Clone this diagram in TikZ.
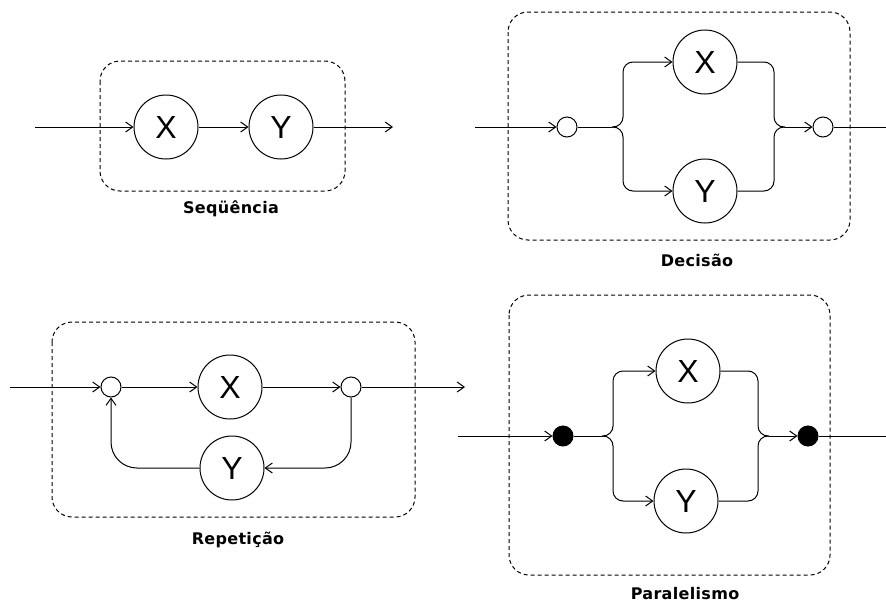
\documentclass[tikz,border=0pt]{standalone}
\usepackage{fontspec}
\setmainfont{Liberation Sans}
\newfontfamily\labelfont[LetterSpace=2]{DejaVu Sans}
\usetikzlibrary{arrows.meta,calc}

\tikzset{
  blockbox/.style = {draw, dash pattern=on 4pt off 3pt, rounded corners=20pt, line width=1pt},
  stepnode/.style = {draw, circle, fill=white, minimum size=64pt, inner sep=0pt, font=\fontsize{32}{32}\selectfont},
  joint/.style = {draw, circle, fill=white, minimum size=20pt, inner sep=0pt},
  fork/.style = {joint, fill=black},
  flow/.style = {-{Straight Barb[length=7pt,width=10pt]}},
  caption/.style = {font=\labelfont\bfseries\fontsize{16}{18}\selectfont},
}

\begin{document}
\begin{tikzpicture}[x=1pt, y=-1pt, line width=1pt]
\useasboundingbox (0,0) rectangle (886,605);

% Sequencia
\draw[blockbox] (100,61) rectangle (345,191);
\coordinate (sin) at (35,127);
\node[stepnode] (sx) at (166,127) {X};
\node[stepnode] (sy) at (281,127) {Y};
\coordinate (sout) at (393,127);
\draw[flow] (sin) -- (sx);
\draw[flow] (sx) -- (sy);
\draw[flow] (sy) -- (sout);
\node[caption] (slabel) at (231,209) {Seqüência};

% Decisao
\draw[blockbox] (508,12) rectangle (850,240);
\coordinate (din) at (475,127);
\node[joint] (dl) at (567,127) {};
\coordinate (dsplit) at (612,127);
\node[stepnode] (dx) at (705,62) {X};
\node[stepnode] (dy) at (705,191) {Y};
\coordinate (dmerge) at (785,127);
\node[joint] (dr) at (823,127) {};
\coordinate (dout) at (886,127);
\draw[flow] (din) -- (dl);
\draw (dl) -- (dsplit);
\draw[flow, rounded corners=10pt] (dsplit) -- ++(11,0) |- (dx);
\draw[flow, rounded corners=10pt] (dsplit) -- ++(11,0) |- (dy);
\draw[rounded corners=10pt] (dx) -| ($(dmerge)+(-11,0)$) -- (dmerge);
\draw[rounded corners=10pt] (dy) -| ($(dmerge)+(-11,0)$) -- (dmerge);
\draw[flow] (dmerge) -- (dr);
\draw (dr) -- (dout);
\node[caption] (dlabel) at (697,260) {Decisão};

% Repeticao
\draw[blockbox] (52,322) rectangle (415,517);
\coordinate (rin) at (10,387);
\node[joint] (rl) at (111,387) {};
\node[stepnode] (rx) at (230,387) {X};
\node[joint] (rr) at (351,387) {};
\node[stepnode] (ry) at (232,468) {Y};
\coordinate (rout) at (465,387);
\draw[flow] (rin) -- (rl);
\draw[flow] (rl) -- (rx);
\draw[flow] (rx) -- (rr);
\draw[flow] (rr) -- (rout);
\draw[flow, rounded corners=26pt] (rr) |- (ry);
\draw[flow, rounded corners=26pt] (ry) -| (rl);
\node[caption] (rlabel) at (238,540) {Repetição};

% Paralelismo
\draw[blockbox] (509,295) rectangle (830,575);
\coordinate (pin) at (458,436);
\node[fork] (pl) at (563,436) {};
\coordinate (psplit) at (602,436);
\node[stepnode] (px) at (688,371) {X};
\node[stepnode] (py) at (686,501) {Y};
\coordinate (pmerge) at (769,436);
\node[fork] (pr) at (808,436) {};
\coordinate (pout) at (886,436);
\draw[flow] (pin) -- (pl);
\draw (pl) -- (psplit);
\draw[flow, rounded corners=10pt] (psplit) -- ++(11,0) |- (px);
\draw[flow, rounded corners=10pt] (psplit) -- ++(11,0) |- (py);
\draw[rounded corners=10pt] (px) -| ($(pmerge)+(-11,0)$) -- (pmerge);
\draw[rounded corners=10pt] (py) -| ($(pmerge)+(-11,0)$) -- (pmerge);
\draw[flow] (pmerge) -- (pr);
\draw (pr) -- (pout);
\node[caption] (plabel) at (685,594) {Paralelismo};
\end{tikzpicture}
\end{document}
